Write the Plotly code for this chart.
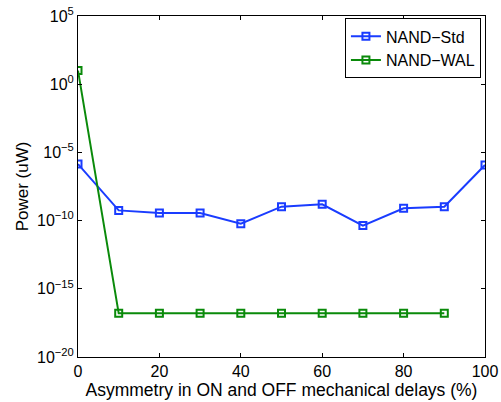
import plotly.graph_objects as go

# Asymmetry between ON and OFF mechanical delays (%)
asym_std = [0, 10, 20, 30, 40, 50, 60, 70, 80, 90, 100]
asym_wal = [0, 10, 20, 30, 40, 50, 60, 70, 80, 90]

# Power (uW)
power_std = [1.4e-6, 5.6e-10, 3.6e-10, 3.6e-10, 5.9e-11, 1.05e-9, 1.55e-9, 4.3e-11, 7.9e-10, 1.05e-9, 1.2e-6]
power_wal = [10.0, 1.6e-17, 1.6e-17, 1.6e-17, 1.6e-17, 1.6e-17, 1.6e-17, 1.6e-17, 1.6e-17, 1.6e-17]

y_tickvals = [1e-20, 1e-15, 1e-10, 1e-5, 1e0, 1e5]
y_ticktext = ["10<sup>\u221220</sup>", "10<sup>\u221215</sup>", "10<sup>\u221210</sup>",
              "10<sup>\u22125</sup>", "10<sup>0</sup>", "10<sup>5</sup>"]
x_tickvals = [0, 20, 40, 60, 80, 100]

BLUE = "#1a3cff"
GREEN = "#0a8a0a"
FONT = "Liberation Sans, Arial, Helvetica, sans-serif"

fig = go.Figure()
fig.add_trace(go.Scatter(
    x=asym_std, y=power_std, name="NAND\u2212Std", mode="lines+markers",
    line=dict(color=BLUE, width=2),
    marker=dict(symbol="square-open", size=7, color=BLUE, line=dict(width=2)),
))
fig.add_trace(go.Scatter(
    x=asym_wal, y=power_wal, name="NAND\u2212WAL", mode="lines+markers",
    line=dict(color=GREEN, width=2),
    marker=dict(symbol="square-open", size=7, color=GREEN, line=dict(width=2)),
))

axis_common = dict(
    showline=True, linecolor="black", linewidth=1, mirror="ticks",
    ticks="inside", ticklen=4, tickcolor="black", showgrid=False, zeroline=False,
    tickfont=dict(family=FONT, size=16, color="black"),
    automargin=False,
)

fig.update_layout(
    width=501, height=402,
    margin=dict(l=78, r=16, t=16, b=45, autoexpand=False),
    paper_bgcolor="white", plot_bgcolor="white",
    font=dict(family=FONT, size=16, color="black"),
    showlegend=True,
    legend=dict(
        x=0.99, y=0.993, xanchor="right", yanchor="top",
        bordercolor="black", borderwidth=1, bgcolor="white",
        font=dict(family=FONT, size=16, color="black"),
        tracegroupgap=0, itemwidth=30,
    ),
    xaxis=dict(
        range=[0, 100], tickvals=x_tickvals,
        title=dict(text="Asymmetry in ON and OFF mechanical delays (%)", standoff=0,
                   font=dict(family=FONT, size=17.5)),
        **axis_common,
    ),
    yaxis=dict(
        type="log", range=[-20, 5], tickvals=y_tickvals, ticktext=y_ticktext,
        title=dict(text="Power (uW)", standoff=4, font=dict(family=FONT, size=17)),
        **axis_common,
    ),
)

fig.write_html("out.html")
